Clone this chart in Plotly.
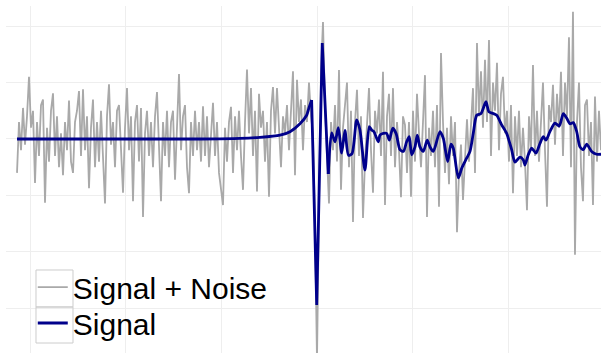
import numpy as np
import plotly.graph_objects as go

# Noisy measurement, sampled on a uniform time grid
T0 = -0.136
DT = 0.0209
noisy = [
    -0.6, 0.3, -0.2, 0.55, -0.1, 0.4, 1.1, 0.2, 0.5, -0.78,
    0.3, -0.3, 0.6, 0.7, -1.13, 0.2, -0.4, 0.5, 0.81, -0.3,
    0.4, -0.5, 0.1, -0.64, 0.3, -0.2, 0.68, -0.4, -0.6, 0.3,
    0.5, 0.85, -0.3, 0.88, -0.2, 0.4, -0.87, 0.2, 0.7, -0.5,
    0.3, -0.4, 0.5, -0.2, -1.14, 0.4, 0.97, -0.1, 0.3, -0.5,
    0.5, 0.6, -0.3, -0.95, 0.2, 0.9, -0.2, 0.4, -1.1, 0.3,
    0.6, -0.4, 0.55, -1.38, 0.1, 0.5, -0.3, 0.3, -0.5, 0.4,
    0.83, -0.2, -1.1, 0.3, -0.3, 0.5, -0.5, 0.3, 0.5, -0.72,
    0.2, 1.15, -0.2, 0.4, 0.6, -0.5, -0.96, 0.3, -0.3, 0.5,
    -0.2, 0.3, -0.4, 0.58, -0.3, 0.4, -0.5, 0.2, 0.64, -0.3,
    0.3, -0.6, -0.9, -1.17, 0.2, -0.4, 0.3, 0.57, -0.6, 0.4,
    -0.2, 0.5, -0.3, -0.9, 0.3, 1.23, 0.1, 0.9, -0.3, 0.5,
    -0.93, 0.8, 0.2, 0.5, -0.4, 0.3, -1.02, 0.5, 0.92, 0.1,
    0.9, 0.2, -0.5, 0.4, 0.1, 0.6, -0.2, 0.5, 1.2, -0.64,
    1.05, 0.3, 0.7, -0.2, 0.6, 0.3, 1.0, 0.4, 0.1, -1.5,
    -3.9, -1.2, 1.2, 2.07, 0.6, -0.3, -1.14, 0.3, -0.2, 0.6,
    -0.4, 1.22, -0.9, 0.2, 0.6, 1.0, -0.5, 0.5, -1.47, 0.3,
    0.87, -0.3, 0.4, -1.4, -0.4, 0.2, 0.9, -0.2, -0.95, 0.5,
    0.1, 0.7, -0.3, 1.19, -1.17, 0.4, 0.8, -0.3, 0.9, -0.5,
    0.3, -0.2, -1.03, 0.4, 0.25, -0.6, 0.3, -1.02, 0.5, -0.4,
    0.8, 0.1, -0.5, 0.3, 1.13, -1.38, 0.2, -0.3, 0.5, -0.5,
    0.6, -1.2, 1.52, 0.3, -0.6, 0.2, -0.8, 0.4, -0.3, 0.3,
    -1.65, -0.6, -0.1, -1.08, -0.3, 0.35, -0.4, 0.3, 0.9, -0.6,
    1.7, 0.4, 1.2, 0.2, 1.4, 0.3, 1.75, -0.3, 1.0, 0.5,
    1.35, -0.2, 0.8, 1.1, 0.1, 0.5, -0.4, 0.6, -0.96, 0.4,
    -0.3, 0.5, -0.5, 0.2, -0.4, -1.26, 0.4, -0.2, 1.31, -0.3,
    0.5, -0.4, 0.4, 1.0, -0.2, -1.2, 0.6, 0.3, 0.96, -0.1,
    0.8, 0.2, 1.19, -0.3, 1.0, 0.4, 1.8, -0.5, 2.25, -2.05,
    0.3, 1.0, -0.5, -1.1, 0.6, 0.7, -0.3, 0.3, -1.17, 0.75,
    -0.4, 0.5, -0.2,
]
t_noisy = T0 + DT * np.arange(len(noisy))

# Clean signal
t_signal = [
    -0.136, 1.776, 2.194, 2.403, 2.612, 2.717, 2.821, 2.891, 2.915, 2.943,
    2.996, 3.054, 3.117, 3.152, 3.187, 3.222, 3.257, 3.291, 3.328, 3.365,
    3.414, 3.448, 3.500, 3.545, 3.570, 3.594, 3.640, 3.657, 3.692, 3.727,
    3.755, 3.790, 3.825, 3.866, 3.901, 3.936, 3.963, 3.988, 4.023, 4.047,
    4.075, 4.110, 4.151, 4.180, 4.214, 4.284, 4.319, 4.365, 4.399, 4.423,
    4.476, 4.511, 4.563, 4.598, 4.632, 4.668, 4.713, 4.765, 4.796, 4.841,
    4.877, 4.929, 4.981, 5.033, 5.068, 5.120, 5.155, 5.172, 5.207, 5.242,
    5.287, 5.329, 5.364, 5.392, 5.433, 5.486, 5.531, 5.573, 5.608, 5.643,
    5.677, 5.713, 5.747, 5.782, 5.817, 5.869, 5.922, 5.967,
]
signal = [
    0.0, 0.0, 0.01, 0.03, 0.07, 0.13, 0.27, 0.42, 0.55, 0.69,
    -2.94, 1.70, -0.62, 0.11, -0.05, 0.20, -0.25, 0.15, -0.29, -0.26,
    0.34, 0.16, -0.55, 0.22, 0.16, 0.13, -0.05, 0.07, 0.10, 0.10,
    -0.02, 0.19, 0.10, -0.19, -0.22, -0.05, 0.04, -0.28, -0.14, 0.07,
    -0.14, -0.22, -0.02, -0.14, -0.22, 0.13, 0.01, -0.40, -0.09, -0.16,
    -0.69, -0.52, -0.34, -0.22, 0.10, 0.42, 0.45, 0.66, 0.48, 0.45,
    0.42, 0.25, 0.10, -0.19, -0.41, -0.32, -0.37, -0.46, -0.28, -0.16,
    -0.25, -0.08, 0.04, -0.02, 0.13, 0.28, 0.23, 0.45, 0.37, 0.27,
    0.29, 0.13, -0.14, -0.19, -0.09, -0.22, -0.27, -0.27,
]

# The sharp spike is drawn with straight segments, the rest smoothed
SPIKE_START, SPIKE_END = 9, 12

GRID = "#eeeeee"
BLUE = "#00008b"

fig = go.Figure()
fig.add_trace(go.Scatter(
    x=t_noisy, y=noisy, mode="lines", name="Signal + Noise",
    line=dict(color="#a9a9a9", width=1.8), legend="legend",
))
pieces = [
    (0, SPIKE_START + 1, "spline"),
    (SPIKE_START, SPIKE_END + 1, "linear"),
    (SPIKE_END, len(signal), "spline"),
]
for k, (a, b, shape) in enumerate(pieces):
    fig.add_trace(go.Scatter(
        x=t_signal[a:b], y=signal[a:b], mode="lines", name="Signal",
        line=dict(color=BLUE, width=2.8, shape=shape, smoothing=0.7),
        legendgroup="signal", showlegend=(k == 0), legend="legend2",
    ))

# Bordered cells around the legend glyphs
box_style = dict(type="rect", xref="paper", yref="paper",
                 line=dict(color="#cccccc", width=1), fillcolor="rgba(0,0,0,0)")
fig.add_shape(x0=0.0504, x1=0.1126, y0=0.1326, y1=0.2392, **box_style)
fig.add_shape(x0=0.0504, x1=0.1126, y0=0.0288, y1=0.1326, **box_style)

legend_style = dict(xanchor="left", yanchor="top", bgcolor="rgba(0,0,0,0)",
                    borderwidth=0, font=dict(size=30), itemwidth=30)

fig.update_layout(
    width=601, height=353,
    margin=dict(l=6, r=0, t=6, b=0, autoexpand=False),
    paper_bgcolor="white", plot_bgcolor="white",
    font=dict(family="Liberation Sans, Arial, sans-serif", color="black"),
    showlegend=True,
    legend=dict(x=0.045, y=0.265, **legend_style),
    legend2=dict(x=0.045, y=0.1614, **legend_style),
    xaxis=dict(range=[-0.251, 5.967], dtick=1, tick0=0,
               showgrid=True, gridcolor=GRID, gridwidth=1,
               zeroline=False, showticklabels=False, ticks="", showline=False),
    yaxis=dict(range=[-3.788, 2.354], dtick=1, tick0=0,
               showgrid=True, gridcolor=GRID, gridwidth=1,
               zeroline=False, showticklabels=False, ticks="", showline=False),
)

fig.write_html("out.html")
